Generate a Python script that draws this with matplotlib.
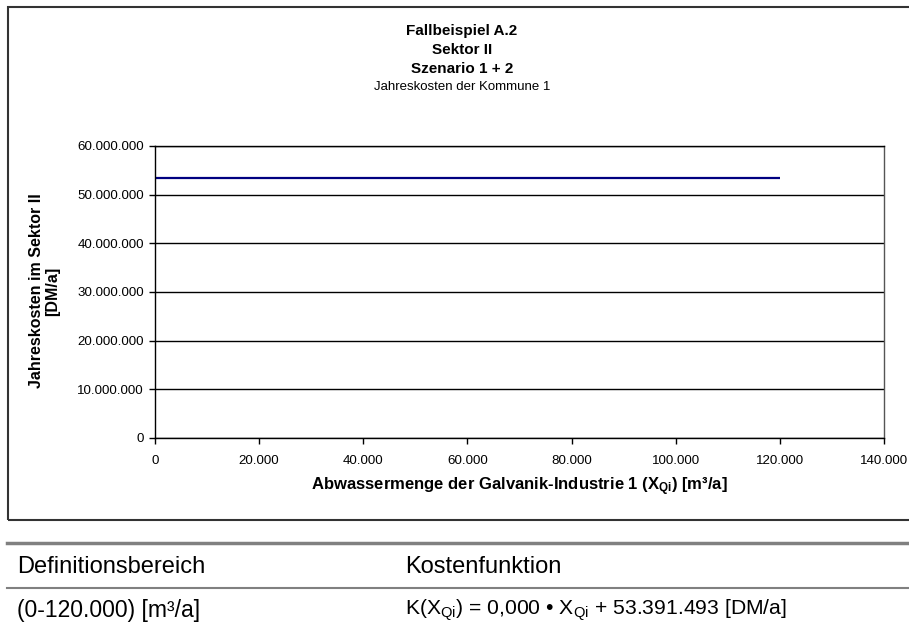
import matplotlib
matplotlib.use("Agg")
import matplotlib.pyplot as plt
from matplotlib.patches import Rectangle
from matplotlib.lines import Line2D
from matplotlib.ticker import FuncFormatter

plt.rcParams['font.family'] = ['Liberation Sans', 'DejaVu Sans']
plt.rcParams['mathtext.fontset'] = 'custom'
plt.rcParams['mathtext.rm'] = 'Liberation Sans'
plt.rcParams['mathtext.it'] = 'Liberation Sans'
plt.rcParams['mathtext.bf'] = 'Liberation Sans:bold'

# data
x_values = [0, 120000]
y_values = [53391493, 53391493]
x_ticks = [0, 20000, 40000, 60000, 80000, 100000, 120000, 140000]
y_ticks = [0, 10000000, 20000000, 30000000, 40000000, 50000000, 60000000]
title_lines = ["Fallbeispiel A.2", "Sektor II", "Szenario 1 + 2"]
subtitle = "Jahreskosten der Kommune 1"
table_header = ["Definitionsbereich", "Kostenfunktion"]
table_row = ["(0-120.000) [m³/a]",
             r"K($\mathrm{X_{Qi}}$) = 0,000 • $\mathrm{X_{Qi}}$ + 53.391.493 [DM/a]"]

W, H = 909, 632
fig = plt.figure(figsize=(W / 100, H / 100), dpi=100)

def fx(px):
    return px / W

def fy(py):
    return 1 - py / H

# chart frame
fig.patches.append(Rectangle((fx(8), fy(520)), fx(920) - fx(8), fy(7) - fy(520),
                             transform=fig.transFigure, fill=False,
                             edgecolor='#333333', linewidth=1.5))

ax = fig.add_axes([fx(155), fy(438), fx(884) - fx(155), fy(146) - fy(438)])
ax.plot(x_values, y_values, color='#000080', linewidth=1.6, solid_capstyle='butt')
ax.set_xlim(0, 140000)
ax.set_ylim(0, 60000000)
ax.set_xticks(x_ticks)
ax.set_yticks(y_ticks)

def fmt(v, pos):
    return f"{int(v):,}".replace(",", ".")

ax.xaxis.set_major_formatter(FuncFormatter(fmt))
ax.yaxis.set_major_formatter(FuncFormatter(fmt))
ax.tick_params(direction='out', length=4, width=1, labelsize=9.6, colors='black', pad=4)
ax.tick_params(axis='x', pad=8)
ax.grid(axis='y', color='black', linewidth=1)
ax.set_axisbelow(True)
for s in ax.spines.values():
    s.set_color('black')
    s.set_linewidth(1)
ax.spines['right'].set_color('#555555')

fig.text(fx(519), fy(487),
         r"Abwassermenge der Galvanik-Industrie 1 ($\mathbf{X_{Qi}}$) [m³/a]",
         fontsize=12, fontweight='bold', ha='center', va='center')
fig.text(fx(37), fy(291), "Jahreskosten im Sektor II", rotation=90, fontsize=11.5,
         fontweight='bold', ha='center', va='center')
fig.text(fx(53), fy(291), "[DM/a]", rotation=90, fontsize=11.5,
         fontweight='bold', ha='center', va='center')

for t, y in zip(title_lines, [31, 50, 69]):
    fig.text(fx(462), fy(y), t, fontsize=11, fontweight='bold', ha='center', va='center')
fig.text(fx(462), fy(87), subtitle, fontsize=9.5, ha='center', va='center')

# table
fig.lines.append(Line2D([fx(7), 1], [fy(543), fy(543)], transform=fig.transFigure,
                        color='#808080', linewidth=2.5))
fig.lines.append(Line2D([fx(7), 1], [fy(588), fy(588)], transform=fig.transFigure,
                        color='#808080', linewidth=1.5))
fig.text(fx(17), fy(567), table_header[0], fontsize=17, ha='left', va='center')
fig.text(fx(405), fy(567), table_header[1], fontsize=17, ha='left', va='center')
fig.text(fx(17), fy(610), table_row[0], fontsize=16.5, ha='left', va='center')
fig.text(fx(405), fy(610), table_row[1], fontsize=15.2, ha='left', va='center')

fig.savefig("out.png", dpi=100)
